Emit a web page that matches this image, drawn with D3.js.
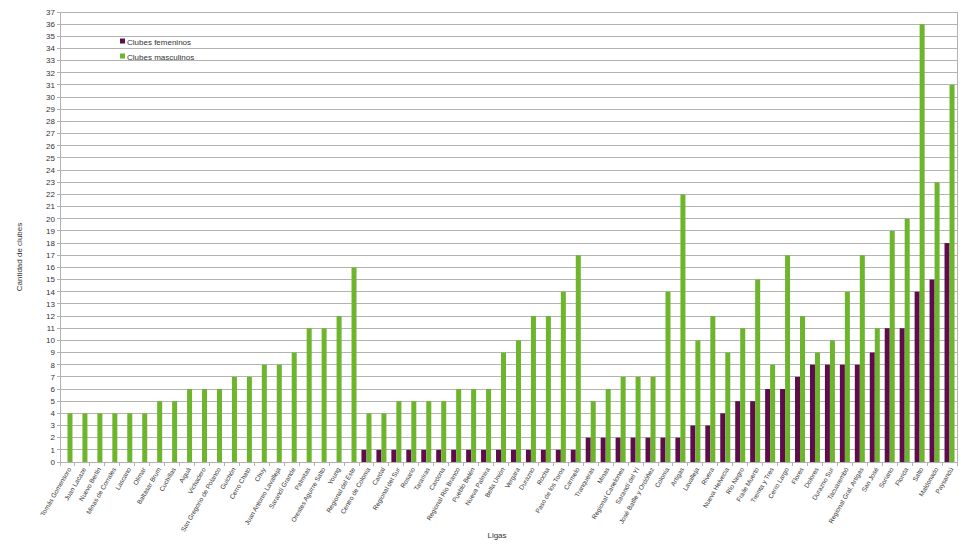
<!DOCTYPE html>
<html><head><meta charset="utf-8">
<script src="https://cdn.jsdelivr.net/npm/d3@7"></script>
<style>body{margin:0;background:#fff}text{font-family:"Liberation Sans",Arial,sans-serif}</style>
</head><body><svg id="c" width="980" height="547"></svg>
<script>
const ligas = ["Tomás Gomensoro","Juan Lacaze","Nuevo Berlín","Minas de Corrales","Lascano","Olimar","Baltasar Brum","Cuchillas","Aiguá","Vichadero","San Gregorio de Polanco","Guichón","Cerro Chato","Chuy","Juan Antonio Lavalleja","Sarandí Grande","Palmitas","Orestes Aguirre Salto","Young","Regional del Este","Centro de Colonia","Cardal","Regional del Sur","Rosario","Tarariras","Cardona","Regional Río Branco","Pueblo Belén","Nueva Palmira","Bella Unión","Vergara","Durazno","Rocha","Paso de los Toros","Carmelo","Tranqueras","Minas","Regional Canelones","Sarandí del Yí","José Batlle y Ordóñez","Colonia","Artigas","Lavalleja","Rivera","Nueva Helvecia","Río Negro","Fraile Muerto","Treinta y Tres","Cerro Largo","Flores","Dolores","Durazno Sur","Tacuarembó","Regional Gral. Artigas","San José","Soriano","Florida","Salto","Maldonado","Paysandú"];
const femeninos = [0,0,0,0,0,0,0,0,0,0,0,0,0,0,0,0,0,0,0,0,1,1,1,1,1,1,1,1,1,1,1,1,1,1,1,2,2,2,2,2,2,2,3,3,4,5,5,6,6,7,8,8,8,8,9,11,11,14,15,18];
const masculinos = [4,4,4,4,4,4,5,5,6,6,6,7,7,8,8,9,11,11,12,16,4,4,5,5,5,5,6,6,6,9,10,12,12,14,17,5,6,7,7,7,14,22,10,12,9,11,15,8,17,12,9,10,14,17,11,19,20,36,23,31];
const series = ["Clubes femeninos","Clubes masculinos"];
const colors = ["#5f0c4c","#6db52c"];
const yTicks = d3.range(0,38);

const svg = d3.select("#c");
const L=60,R=957,T=12,B=462;
const x = d3.scaleBand().domain(ligas).range([L,R]).paddingInner(0.33).paddingOuter(0.165);
const xs = d3.scaleBand().domain([0,1]).range([0,x.bandwidth()]);
const y = d3.scaleLinear().domain([0,37]).range([B,T]);

// grid
svg.append("g").selectAll("line").data(yTicks).join("line")
  .attr("x1",L-3).attr("x2",R).attr("y1",d=>y(d)).attr("y2",d=>y(d))
  .attr("stroke","#b3b3b3").attr("stroke-width",1).attr("shape-rendering","crispEdges");
svg.append("line").attr("x1",R).attr("x2",R).attr("y1",T).attr("y2",B).attr("stroke","#b3b3b3").attr("shape-rendering","crispEdges");
svg.append("line").attr("x1",L).attr("x2",L).attr("y1",T).attr("y2",B).attr("stroke","#b3b3b3").attr("shape-rendering","crispEdges");

// y labels
svg.append("g").selectAll("text").data(yTicks).join("text")
  .attr("x",L-5).attr("y",d=>y(d)).attr("dy","0.35em").attr("text-anchor","end")
  .attr("font-size",8).attr("fill","#333").text(d=>d);

// bars
const g = svg.append("g").selectAll("g").data(ligas).join("g")
  .attr("transform",d=>`translate(${x(d)},0)`);
g.append("rect").attr("x",xs(0)).attr("width",xs.bandwidth())
  .attr("y",(d,i)=>y(femeninos[i])).attr("height",(d,i)=>B-y(femeninos[i])).attr("fill",colors[0]);
g.append("rect").attr("x",xs(1)).attr("width",xs.bandwidth())
  .attr("y",(d,i)=>y(masculinos[i])).attr("height",(d,i)=>B-y(masculinos[i])).attr("fill",colors[1]);

// x axis
const step = x.step();
svg.append("line").attr("x1",L).attr("x2",R).attr("y1",B+0.5).attr("y2",B+0.5).attr("stroke","#b3b3b3");
svg.append("g").selectAll("line").data(d3.range(ligas.length+1)).join("line")
  .attr("x1",i=>L+i*step).attr("x2",i=>L+i*step).attr("y1",B).attr("y2",B+4)
  .attr("stroke","#b3b3b3").attr("shape-rendering","crispEdges");
svg.append("g").selectAll("text").data(ligas).join("text")
  .attr("transform",d=>`translate(${x(d)+x.bandwidth()/2+2},${B+6}) rotate(-60)`)
  .attr("text-anchor","end").attr("dy","0.35em").attr("font-size",6.5).attr("fill","#333").text(d=>d);

// titles
svg.append("text").attr("x",497).attr("y",538).attr("text-anchor","middle").attr("font-size",8).attr("fill","#333").text("Ligas");
svg.append("text").attr("transform","translate(22,257) rotate(-90)").attr("text-anchor","middle").attr("font-size",8).attr("fill","#333").text("Cantidad de clubes");

// legend
const lg = svg.append("g").selectAll("g").data(series).join("g")
  .attr("transform",(d,i)=>`translate(120,${42+i*15})`);
lg.append("rect").attr("x",0).attr("y",-3.5).attr("width",5).attr("height",5).attr("fill",(d,i)=>colors[i]);
lg.append("text").attr("x",7).attr("y",0).attr("dy","0.35em").attr("font-size",8).attr("fill","#333").text(d=>d);
</script></body></html>
